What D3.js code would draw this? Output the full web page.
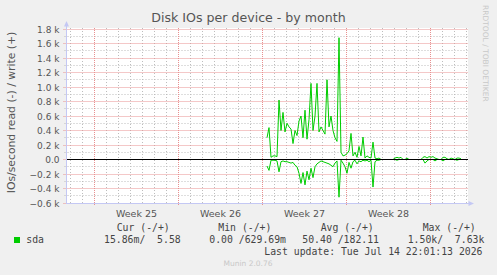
<!DOCTYPE html>
<html>
<head>
<meta charset="utf-8">
<script src="https://cdn.jsdelivr.net/npm/d3@7"></script>
<style>
  body { margin: 0; background: #f0f0f0; }
  svg { display: block; }
  text { font-family: "DejaVu Sans", sans-serif; }
  .mono { font-family: "DejaVu Sans Mono", monospace; white-space: pre; }
</style>
</head>
<body>
<svg id="chart" width="497" height="275"></svg>
<script>
// samples every 4 hours, starting at the first non-empty sample
var startTime = new Date(2026, 5, 29, 9);
var stepHours = 4;

// IOs/second written (+)
var writeValues = [300, 440, 30, 50, 50, 40, 820, 400, 650, 380,
  500, 450, 420, 220, 400, 330, 530, 600, 300, 680,
  280, 550, 1050, 400, 600, 1050, 380, 450, 400, 350,
  1100, 450, 600, 400, 300, 250, 1680, 100, 50, 60,
  80, 120, 360, 50, 100, 30, 180, 50, 310, 20,
  50, 30, 20, 240, 20, 10, 20,
  0, 0, 0, 0, 0, 0, 0, 20, 30, 20, 30, 0, 0, 20, 0, 0, 0, 0, 0, 0, 0,
  30, 40, 20, 40, 30, 40, 20, 10, 0, 0, 30, 30, 10, 0, 20, 10, 0, 20, 20, 10];

// IOs/second read, drawn negative (-)
var readValues = [-90, -150, -10, -10, -10, -20, -170, -30, -20, -30,
  -30, -40, -50, -40, -80, -100, -190, -330, -180, -350,
  -160, -280, -120, -250, -100, -60, -40, -20, -30, -40,
  -50, -60, -80, -100, -50, -20, -520, -10, -50, -100,
  -190, -40, -120, -30, -10, -60, -20, -30, -10, -20,
  -10, -30, -10, -380, -30, -10, -10,
  0, 0, 0, 0, 0, 0, 0, 0, -10, 0, 0, 0, 0, 0, 0, 0, 0, 0, 0, 0, 0,
  0, -50, -20, 0, 0, 0, -20, 0, 0, 0, -20, 0, 0, 0, 0, 0, 0, -10, 0, 0];

var yTicks = [-600, -400, -200, 0, 200, 400, 600, 800, 1000, 1200, 1400, 1600, 1800];
var weekStarts = [new Date(2026, 5, 15), new Date(2026, 5, 22), new Date(2026, 5, 29), new Date(2026, 6, 6)];
var weekLabels = ['Week 25', 'Week 26', 'Week 27', 'Week 28'];

var legendHeaders = ['Cur (-/+)', 'Min (-/+)', 'Avg (-/+)', 'Max (-/+)'];
var legendValues = ['15.86m/  5.58', '0.00 /629.69m', '50.40 /182.11', '1.50k/  7.63k'];

function drawChart() {
  const svg = d3.select('#chart');
  const box = { left: 66.5, right: 468, top: 28, bottom: 203 };

  const x_scale = d3.scaleTime()
    .domain([new Date(2026, 5, 12, 17), new Date(2026, 6, 16, 1)])
    .range([67, 467]);
  const y_scale = d3.scaleLinear()
    .domain([-600, 1800])
    .range([203, 29]);
  const crisp = v => Math.floor(v) + 0.5;

  const points = writeValues.map((w, i) => ({
    t: d3.timeHour.offset(startTime, i * stepHours), w: w, r: readValues[i]
  }));

  svg.append('rect')
    .attr('x', box.left)
    .attr('y', box.top)
    .attr('width', box.right - box.left)
    .attr('height', box.bottom - box.top)
    .attr('fill', '#ffffff');

  // grid: gray minor (days, 0.1 k), red major (Mondays, 0.2 k)
  const grid = svg.append('g');
  const days = d3.timeDay.range(x_scale.domain()[0], x_scale.domain()[1]);
  const mondays = d3.timeMonday.range(x_scale.domain()[0], x_scale.domain()[1]);
  const minorY = d3.range(-500, 1800, 200);

  grid.selectAll('line.vminor')
    .data(days.filter(d => d.getDay() !== 1))
    .enter()
    .append('line')
    .attr('class', 'vminor')
    .attr('x1', d => crisp(x_scale(d)))
    .attr('x2', d => crisp(x_scale(d)))
    .attr('y1', box.top)
    .attr('y2', box.bottom + 2)
    .style('stroke', '#bdbdbd')
    .style('stroke-dasharray', '1,2');

  grid.selectAll('line.hminor')
    .data(minorY)
    .enter()
    .append('line')
    .attr('class', 'hminor')
    .attr('x1', box.left - 2)
    .attr('x2', box.right)
    .attr('y1', d => crisp(y_scale(d)))
    .attr('y2', d => crisp(y_scale(d)))
    .style('stroke', '#bdbdbd')
    .style('stroke-dasharray', '1,2');

  grid.selectAll('line.vmajor')
    .data(mondays)
    .enter()
    .append('line')
    .attr('class', 'vmajor')
    .attr('x1', d => crisp(x_scale(d)))
    .attr('x2', d => crisp(x_scale(d)))
    .attr('y1', box.top)
    .attr('y2', box.bottom + 3)
    .style('stroke', '#e89090')
    .style('stroke-dasharray', '1,1');

  grid.selectAll('line.hmajor')
    .data(yTicks)
    .enter()
    .append('line')
    .attr('class', 'hmajor')
    .attr('x1', box.left - 3)
    .attr('x2', box.right)
    .attr('y1', d => crisp(y_scale(d)))
    .attr('y2', d => crisp(y_scale(d)))
    .style('stroke', '#e89090')
    .style('stroke-dasharray', '1,1');

  // write and read lines
  const writeLine = d3.line().x(d => x_scale(d.t)).y(d => y_scale(d.w));
  const readLine = d3.line().x(d => x_scale(d.t)).y(d => y_scale(d.r));
  svg.append('path').datum(points)
    .attr('d', writeLine)
    .style('fill', 'none')
    .style('stroke', '#00cc00');
  svg.append('path').datum(points)
    .attr('d', readLine)
    .style('fill', 'none')
    .style('stroke', '#00cc00');

  // zero rule
  svg.append('line')
    .attr('x1', box.left)
    .attr('x2', box.right)
    .attr('y1', crisp(y_scale(0)))
    .attr('y2', crisp(y_scale(0)))
    .style('stroke', '#000000');

  // axes with arrows
  const axisColor = '#c4c8f4';
  svg.append('line')
    .attr('x1', box.left).attr('x2', box.left)
    .attr('y1', 24).attr('y2', box.bottom + 1)
    .style('stroke', axisColor);
  svg.append('path').attr('d', 'M64,26.5 L69,26.5 L66.5,21 Z').style('fill', axisColor);
  svg.append('line')
    .attr('x1', box.left).attr('x2', 470)
    .attr('y1', 203.5).attr('y2', 203.5)
    .style('stroke', axisColor);
  svg.append('path').attr('d', 'M468.5,201 L468.5,206 L474,203.5 Z').style('fill', axisColor);

  // y tick labels
  svg.append('g').selectAll('text')
    .data(yTicks)
    .enter()
    .append('text')
    .attr('x', 59.5)
    .attr('y', d => crisp(y_scale(d)) + 3.3)
    .attr('text-anchor', 'end')
    .attr('font-size', 9)
    .attr('fill', '#555')
    .text(d => d === 0 ? '0.0' : d3.format('.1f')(d / 1000) + ' k');

  // week labels, centred in each week
  svg.append('g').selectAll('text')
    .data(weekStarts)
    .enter()
    .append('text')
    .attr('x', d => x_scale(d3.timeHour.offset(d, 84)))
    .attr('y', 216.5)
    .attr('text-anchor', 'middle')
    .attr('font-size', 9.5)
    .attr('fill', '#555')
    .text((d, i) => weekLabels[i]);

  svg.append('text')
    .attr('x', 248.5).attr('y', 22)
    .attr('text-anchor', 'middle')
    .attr('font-size', 12.6)
    .attr('fill', '#555')
    .text('Disk IOs per device - by month');

  svg.append('text')
    .attr('transform', 'translate(14.5,112.5) rotate(-90)')
    .attr('text-anchor', 'middle')
    .attr('font-size', 10.8)
    .attr('fill', '#555')
    .text('IOs/second read (-) / write (+)');

  svg.append('text')
    .attr('transform', 'translate(483.3,5) rotate(90)')
    .attr('font-size', 7.5)
    .attr('fill', '#c8c8c8')
    .text('RRDTOOL / TOBI OETIKER');

  // legend
  const headerX = [116.7, 218.3, 320.7, 422.7];
  const valueX = [104, 209.3, 302.3, 407.7];
  legendHeaders.forEach((h, i) => {
    svg.append('text').attr('class', 'mono')
      .attr('x', headerX[i]).attr('y', 231)
      .attr('font-size', 9.8).attr('fill', '#444')
      .text(h);
    svg.append('text').attr('class', 'mono')
      .attr('x', valueX[i]).attr('y', 243)
      .attr('font-size', 9.8).attr('fill', '#444')
      .text(legendValues[i]);
  });
  svg.append('rect')
    .attr('x', 14).attr('y', 237)
    .attr('width', 6).attr('height', 6)
    .attr('fill', '#00cc00');
  svg.append('text').attr('class', 'mono')
    .attr('x', 26.3).attr('y', 243)
    .attr('font-size', 9.8).attr('fill', '#444')
    .text('sda');
  svg.append('text').attr('class', 'mono')
    .attr('x', 482.5).attr('y', 255)
    .attr('text-anchor', 'end')
    .attr('font-size', 9.8).attr('fill', '#444')
    .text('Last update: Tue Jul 14 22:01:13 2026');
  svg.append('text')
    .attr('x', 248).attr('y', 266)
    .attr('text-anchor', 'middle')
    .attr('font-size', 7.5)
    .attr('fill', '#c8c8c8')
    .text('Munin 2.0.76');
}

drawChart();
</script>
</body>
</html>
